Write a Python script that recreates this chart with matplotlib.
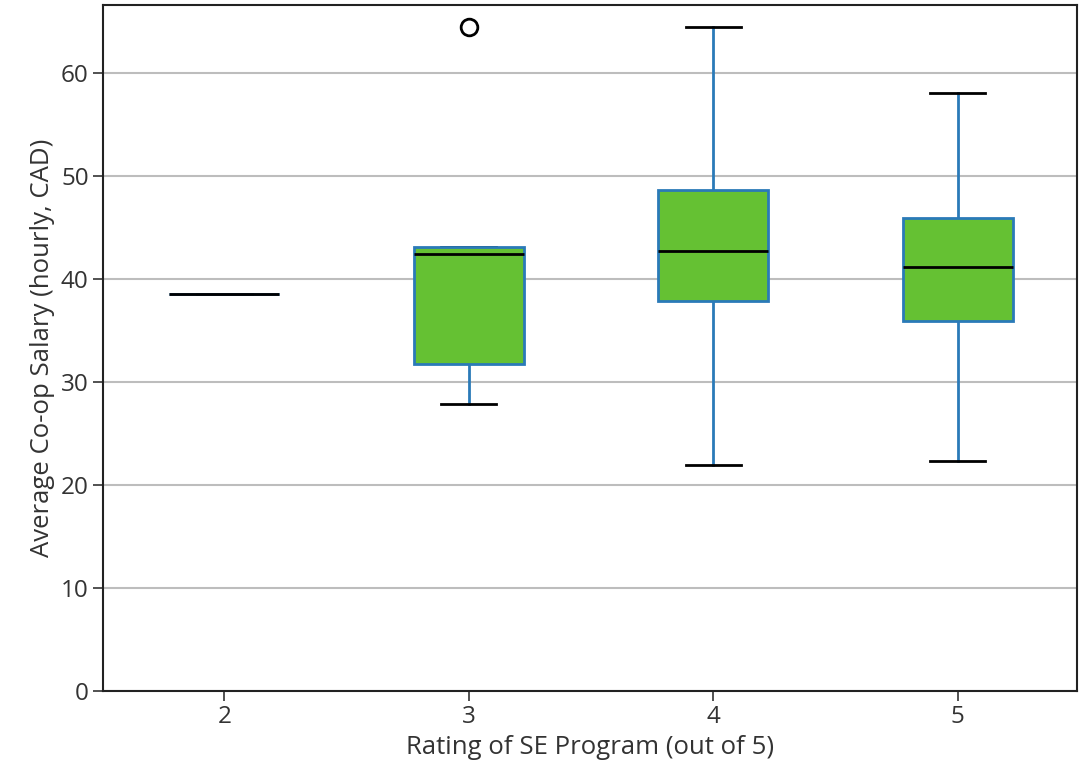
import matplotlib
matplotlib.use('Agg')
import matplotlib.pyplot as plt

plt.rcParams['font.family'] = ['Open Sans', 'DejaVu Sans']

ratings = ['2', '3', '4', '5']
whislo = [38.5, 27.9, 21.95, 22.3]
q1 = [38.5, 31.7, 37.85, 35.9]
med = [38.5, 42.45, 42.7, 41.2]
q3 = [38.5, 43.1, 48.65, 45.9]
whishi = [38.5, 43.1, 64.5, 58.1]
fliers = [[], [64.5], [], []]

stats = []
for i in range(len(ratings)):
    stats.append({'label': ratings[i], 'whislo': whislo[i], 'q1': q1[i], 'med': med[i],
                  'q3': q3[i], 'whishi': whishi[i], 'fliers': fliers[i]})

fig = plt.figure(figsize=(10.8, 7.71), dpi=100)
ax = fig.add_axes([0.0956, 0.104, 0.9014, 0.8895])

ax.yaxis.grid(True, color='#bdbdbd', linewidth=1.5, zorder=0)
ax.set_axisbelow(True)

ax.bxp(stats, widths=0.45, patch_artist=True,
       boxprops=dict(facecolor='#65c133', edgecolor='#2a7ab8', linewidth=2, zorder=3),
       whiskerprops=dict(color='#2a7ab8', linewidth=2, zorder=2),
       capprops=dict(color='black', linewidth=2, zorder=2),
       medianprops=dict(color='black', linewidth=2, zorder=4),
       flierprops=dict(marker='o', markerfacecolor='none', markeredgecolor='black',
                       markersize=12, markeredgewidth=2))

ax.set_xlim(0.505, 4.487)
ax.set_ylim(0, 66.6)
ax.set_xlabel('Rating of SE Program (out of 5)', fontsize=18.5, color='#333333')
ax.set_ylabel('Average Co-op Salary (hourly, CAD)', fontsize=18.5, color='#333333')
ax.tick_params(axis='both', labelsize=17.5, colors='#333333', length=7, width=1.2)
for s in ax.spines.values():
    s.set_linewidth(1.5)
    s.set_color('#222222')

plt.savefig('out.png', dpi=100)
